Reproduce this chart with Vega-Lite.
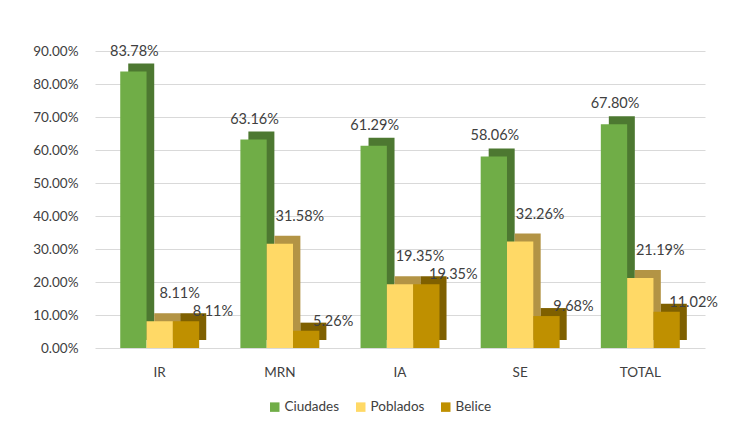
{
  "$schema": "https://vega.github.io/schema/vega-lite/v6.json",
  "width": 610,
  "height": 297,
  "autosize": {"type": "none"},
  "padding": {"left": 95, "top": 51, "right": 30, "bottom": 80},
  "background": "white",
  "config": {
    "view": {"stroke": null},
    "font": "Lato",
    "axis": {"labelFont": "Lato", "labelFontSize": 13.5, "labelColor": "#404040"},
    "legend": {"labelFont": "Lato", "labelFontSize": 13.5, "labelColor": "#404040"}
  },
  "data": {
    "values": [
      {"grupo": "IR", "serie": "Ciudades", "valor": 0.8378},
      {"grupo": "IR", "serie": "Poblados", "valor": 0.0811},
      {"grupo": "IR", "serie": "Belice", "valor": 0.0811},
      {"grupo": "MRN", "serie": "Ciudades", "valor": 0.6316},
      {"grupo": "MRN", "serie": "Poblados", "valor": 0.3158},
      {"grupo": "MRN", "serie": "Belice", "valor": 0.0526},
      {"grupo": "IA", "serie": "Ciudades", "valor": 0.6129},
      {"grupo": "IA", "serie": "Poblados", "valor": 0.1935},
      {"grupo": "IA", "serie": "Belice", "valor": 0.1935},
      {"grupo": "SE", "serie": "Ciudades", "valor": 0.5806},
      {"grupo": "SE", "serie": "Poblados", "valor": 0.3226},
      {"grupo": "SE", "serie": "Belice", "valor": 0.0968},
      {"grupo": "TOTAL", "serie": "Ciudades", "valor": 0.678},
      {"grupo": "TOTAL", "serie": "Poblados", "valor": 0.2119},
      {"grupo": "TOTAL", "serie": "Belice", "valor": 0.1102}
    ]
  },
  "resolve": {"scale": {"xOffset": "independent", "color": "independent"}},
  "encoding": {
    "x": {
      "field": "grupo", "type": "nominal",
      "sort": ["IR", "MRN", "IA", "SE", "TOTAL"],
      "scale": {"paddingInner": 0.343, "paddingOuter": 0.21},
      "axis": {"title": null, "labelAngle": 0, "domain": false, "ticks": false, "labelPadding": 17}
    },
    "y": {
      "field": "valor", "type": "quantitative",
      "scale": {"domain": [0, 0.9], "nice": false},
      "axis": {"title": null, "format": ".2%", "values": [0,0.1,0.2,0.3,0.4,0.5,0.6,0.7,0.8,0.9], "domain": false, "ticks": false, "labelPadding": 17, "gridColor": "#d9d9d9"}
    }
  },
  "layer": [
    {
      "mark": {"type": "bar", "yOffset": -8},
      "encoding": {
        "xOffset": {
          "field": "serie", "type": "nominal",
          "scale": {"domain": ["Ciudades", "Poblados", "Belice"], "range": [8, 86], "paddingInner": 0, "paddingOuter": 0}
        },
        "color": {
          "field": "serie", "type": "nominal",
          "scale": {"domain": ["Ciudades", "Poblados", "Belice"], "range": ["#4d7831", "#b39445", "#7f6000"]},
          "legend": null
        }
      }
    },
    {
      "encoding": {
        "xOffset": {
          "field": "serie", "type": "nominal",
          "scale": {"domain": ["Ciudades", "Poblados", "Belice"], "paddingInner": 0, "paddingOuter": 0}
        }
      },
      "layer": [
        {
          "mark": {"type": "bar"},
          "encoding": {
            "color": {
              "field": "serie", "type": "nominal",
              "scale": {"domain": ["Ciudades", "Poblados", "Belice"], "range": ["#70ad47", "#ffd966", "#bf9000"]},
              "legend": {"title": null, "orient": "none", "legendX": 173, "legendY": 349, "direction": "horizontal", "symbolType": "square", "symbolSize": 90, "symbolStrokeWidth": 0, "columnPadding": 14, "labelOffset": 3}
            }
          }
        },
        {
          "transform": [{"filter": "datum.serie === 'Ciudades'"}],
          "mark": {"type": "text", "baseline": "middle", "dy": -20, "dx": 1, "fontSize": 14.5, "color": "#404040"},
          "encoding": {"text": {"field": "valor", "type": "quantitative", "format": ".2%"}}
        },
        {
          "transform": [{"filter": "datum.serie === 'Poblados'"}],
          "mark": {"type": "text", "baseline": "middle", "dy": -27, "dx": 20, "fontSize": 14.5, "color": "#404040"},
          "encoding": {"text": {"field": "valor", "type": "quantitative", "format": ".2%"}}
        },
        {
          "transform": [{"filter": "datum.serie === 'Belice'"}],
          "mark": {"type": "text", "baseline": "middle", "dy": -9, "dx": 27, "fontSize": 14.5, "color": "#404040"},
          "encoding": {"text": {"field": "valor", "type": "quantitative", "format": ".2%"}}
        }
      ]
    }
  ]
}
